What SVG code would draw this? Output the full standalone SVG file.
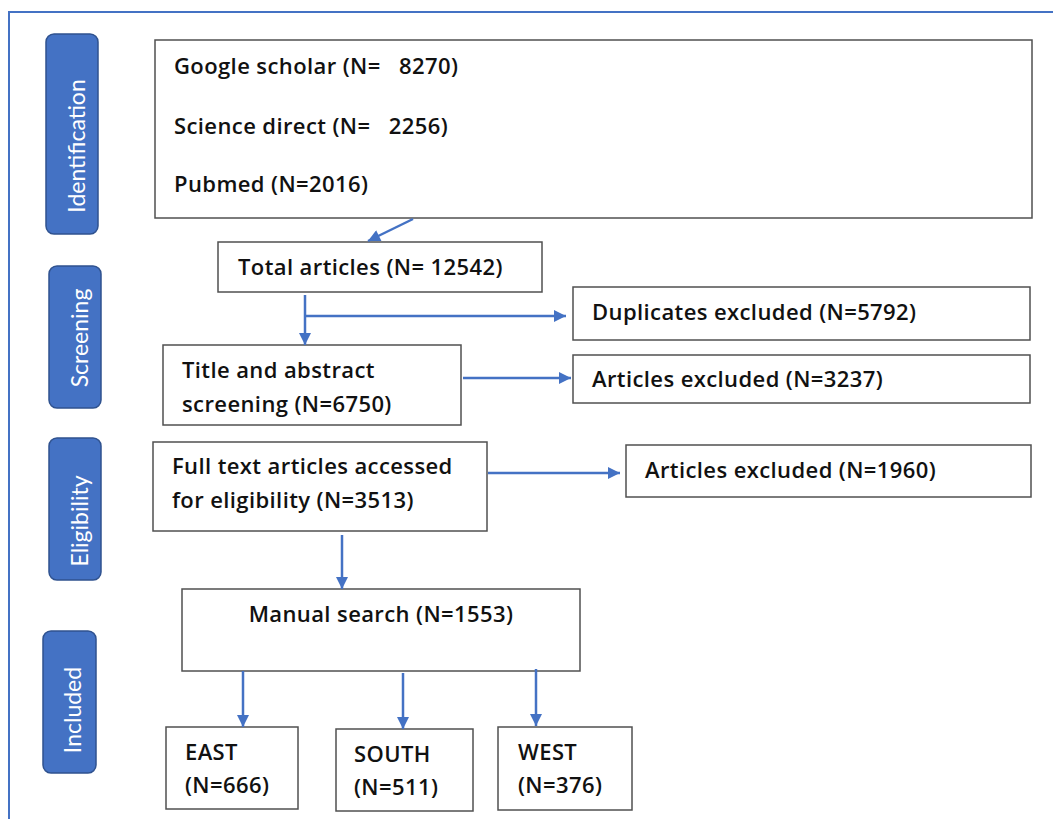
<svg xmlns="http://www.w3.org/2000/svg" width="1053" height="819" viewBox="0 0 1053 819">
<defs>
<marker id="ah" viewBox="0 0 10 10" refX="10" refY="5" markerWidth="13" markerHeight="12" orient="auto" markerUnits="userSpaceOnUse">
<path d="M0,0 L10,5 L0,10 z" fill="#4472C4"/>
</marker>
<style>
.box{fill:#fff;stroke:#505050;stroke-width:1.5}
.stage{fill:#4472C4;stroke:#2F528F;stroke-width:1.5}
.t{font-family:"Open Sans","Liberation Sans",sans-serif;font-size:22px;font-weight:600;letter-spacing:0.4px;fill:#111}
.s{font-family:Lato,"Liberation Sans",sans-serif;font-size:23px;font-weight:400;fill:#fff}
.c{stroke:#4472C4;stroke-width:2.5;fill:none}
</style>
</defs>
<rect width="1053" height="819" fill="#fff"/>
<path d="M9,819 V12 H1053" fill="none" stroke="#4472C4" stroke-width="2"/>
<g id="stage-identification"><rect class="stage" x="46" y="34" width="52" height="200" rx="8"/><text class="s" transform="translate(85,146) rotate(-90)" text-anchor="middle">Identification</text></g>
<g id="stage-screening"><rect class="stage" x="49" y="266" width="52" height="142" rx="8"/><text class="s" transform="translate(88,338) rotate(-90)" text-anchor="middle">Screening</text></g>
<g id="stage-eligibility"><rect class="stage" x="49" y="438" width="52" height="142" rx="8"/><text class="s" transform="translate(88,521) rotate(-90)" text-anchor="middle">Eligibility</text></g>
<g id="stage-included"><rect class="stage" x="43" y="631" width="53" height="142" rx="8"/><text class="s" transform="translate(81,710) rotate(-90)" text-anchor="middle">Included</text></g>
<g id="sources"><rect class="box" x="155" y="40" width="877" height="178"/>
<text class="t" x="174" y="74" xml:space="preserve">Google scholar (N=   8270)</text>
<text class="t" x="174" y="134" xml:space="preserve">Science direct (N=   2256)</text>
<text class="t" x="174" y="192">Pubmed (N=2016)</text></g>
<g id="total"><rect class="box" x="218" y="242" width="324" height="50"/><text class="t" x="238" y="275">Total articles (N= 12542)</text></g>
<g id="duplicates"><rect class="box" x="573" y="287" width="457" height="53"/><text class="t" x="592" y="320">Duplicates excluded (N=5792)</text></g>
<g id="title-abstract"><rect class="box" x="163" y="345" width="298" height="80"/><text class="t" x="182" y="378">Title and abstract</text><text class="t" x="182" y="412">screening (N=6750)</text></g>
<g id="excluded1"><rect class="box" x="573" y="355" width="457" height="48"/><text class="t" x="592" y="387">Articles excluded (N=3237)</text></g>
<g id="fulltext"><rect class="box" x="153" y="442" width="334" height="89"/><text class="t" x="172" y="474">Full text articles accessed</text><text class="t" x="172" y="508">for eligibility (N=3513)</text></g>
<g id="excluded2"><rect class="box" x="626" y="445" width="405" height="52"/><text class="t" x="645" y="478">Articles excluded (N=1960)</text></g>
<g id="manual"><rect class="box" x="182" y="589" width="398" height="82"/><text class="t" x="381" y="622" text-anchor="middle">Manual search (N=1553)</text></g>
<g id="east"><rect class="box" x="166" y="727" width="132" height="82"/><text class="t" x="185" y="760">EAST</text><text class="t" x="185" y="793">(N=666)</text></g>
<g id="south"><rect class="box" x="336" y="729" width="137" height="82"/><text class="t" x="354" y="762">SOUTH</text><text class="t" x="354" y="795">(N=511)</text></g>
<g id="west"><rect class="box" x="498" y="727" width="134" height="83"/><text class="t" x="518" y="760">WEST</text><text class="t" x="518" y="793">(N=376)</text></g>
<g id="connectors">
<line class="c" x1="413" y1="219" x2="368" y2="241" marker-end="url(#ah)"/>
<line class="c" x1="305" y1="295" x2="305" y2="345" marker-end="url(#ah)"/>
<line class="c" x1="305" y1="316" x2="566" y2="316" marker-end="url(#ah)"/>
<line class="c" x1="463" y1="378" x2="571" y2="378" marker-end="url(#ah)"/>
<line class="c" x1="488" y1="473" x2="620" y2="473" marker-end="url(#ah)"/>
<line class="c" x1="342" y1="535" x2="342" y2="589" marker-end="url(#ah)"/>
<line class="c" x1="243" y1="671" x2="243" y2="727" marker-end="url(#ah)"/>
<line class="c" x1="403" y1="673" x2="403" y2="729" marker-end="url(#ah)"/>
<line class="c" x1="536" y1="669" x2="536" y2="726" marker-end="url(#ah)"/>
</g>
</svg>
